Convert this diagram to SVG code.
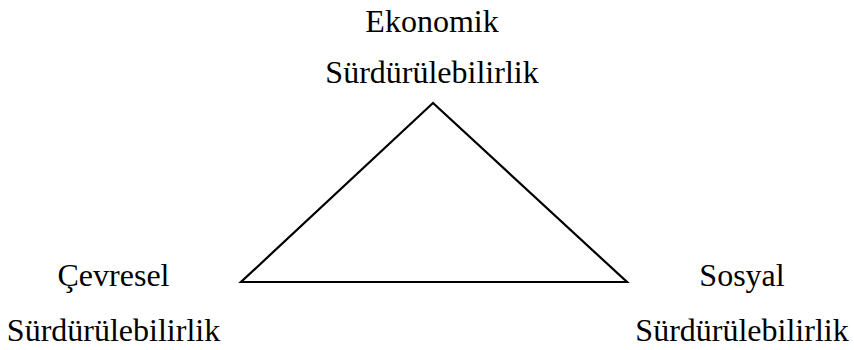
<svg xmlns="http://www.w3.org/2000/svg" width="854" height="350" viewBox="0 0 854 350">
<style>
.t{font-family:"Liberation Serif","Times New Roman",serif;font-size:32px;fill:#000;text-anchor:middle}
.e{fill:none;stroke:#000;stroke-width:2.2;stroke-linejoin:miter}
</style>
<rect width="854" height="350" fill="#fff"/>
<g id="connectors">
<polygon class="e" points="433,103 241,282 627,282"/>
</g>
<g id="ekonomik">
<text class="t" x="432" y="32">Ekonomik</text>
<text class="t" x="432" y="83">Sürdürülebilirlik</text>
</g>
<g id="cevresel">
<text class="t" x="113.5" y="286">Çevresel</text>
<text class="t" x="113.5" y="341">Sürdürülebilirlik</text>
</g>
<g id="sosyal">
<text class="t" x="742" y="286">Sosyal</text>
<text class="t" x="742" y="341">Sürdürülebilirlik</text>
</g>
</svg>
